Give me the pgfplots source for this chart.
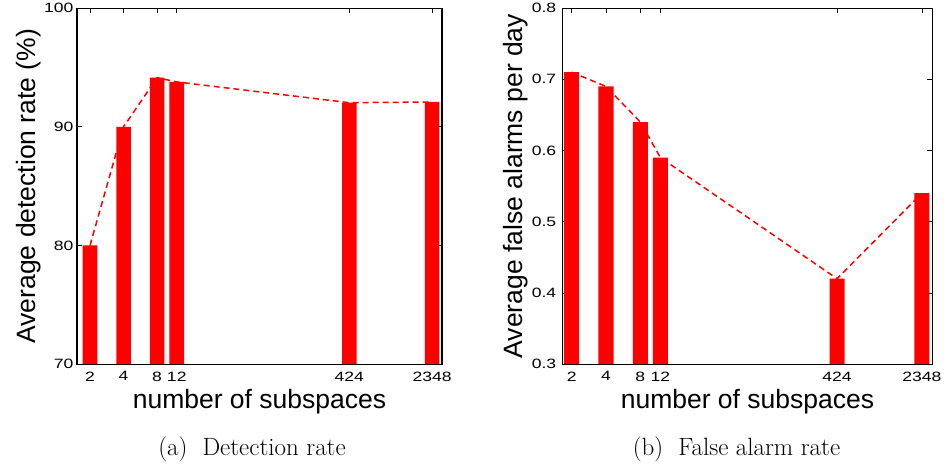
\documentclass[border=0pt]{standalone}
\usepackage{fontspec}
\newfontfamily\arial{Liberation Sans}
\newfontfamily\arialwide[FakeStretch=1.3]{Liberation Sans}
\usepackage{pgfplots}
\pgfplotsset{compat=1.18}

\pgfplotsset{
  subfig/.style={
    scale only axis, height=356pt,
    axis line style={line width=1.2pt},
    every tick/.style={black, line width=0.8pt},
    major tick length=5pt, tick align=inside,
    xtick={1,2,3,3.585,8.728,11.197},
    xticklabels={2,4,8,12,424,2348},
    tick label style={font=\arialwide\fontsize{13.5}{16}\selectfont},
    /pgf/number format/assume math mode=true,
    xticklabel shift=4pt,
    label style={font=\arial\fontsize{26.5}{30}\selectfont},
    xlabel={number of subspaces},
    xlabel style={at={(axis description cs:0.5,0)}, anchor=base, yshift=-44pt},
  },
}

\begin{document}
\begin{tikzpicture}
\path (0,0) rectangle (945pt,463pt);

% (a) detection rate
\begin{axis}[subfig, at={(77pt,100pt)}, anchor=south west, width=365pt,
  xmin=0.612, xmax=11.49, ymin=70, ymax=100, ytick={70,80,90,100},
  ylabel={Average detection rate (\%)},
  ylabel style={at={(axis description cs:-0.115,0.5)}, anchor=base}]
\addplot[ybar, bar width=0.435, fill=red, draw=none] coordinates {
  (1,80) (2,90) (3,94.14) (3.585,93.78) (8.728,92.03) (11.197,92.09)};
\addplot[red, line width=1.5pt, dash pattern=on 6pt off 4pt] coordinates {
  (1,80) (2,90) (3,94.14) (3.585,93.78) (8.728,92.03) (11.197,92.09)};
\end{axis}

% (b) false alarm rate
\begin{axis}[subfig, at={(562.7pt,100pt)}, anchor=south west, width=369.6pt,
  xmin=0.74, xmax=11.5, ymin=0.3, ymax=0.8, ytick={0.3,0.4,0.5,0.6,0.7,0.8},
  yticklabel style={/pgf/number format/.cd, fixed, precision=1, zerofill},
  yticklabel shift=3pt,
  ylabel={Average false alarms per day},
  ylabel style={at={(axis description cs:-0.108,0.5)}, anchor=base}]
\addplot[ybar, bar width=0.44, fill=red, draw=none] coordinates {
  (1,0.71) (2,0.69) (3,0.64) (3.585,0.59) (8.728,0.42) (11.197,0.54)};
\addplot[red, line width=1.5pt, dash pattern=on 6pt off 4pt] coordinates {
  (1,0.71) (2,0.69) (3,0.64) (3.585,0.59) (8.728,0.42) (11.197,0.54)};
\end{axis}

\node[anchor=base, font=\fontsize{25}{28}\selectfont] at (252pt,9pt) {(a)\ \ Detection rate};
\node[anchor=base, font=\fontsize{25}{28}\selectfont] at (736.5pt,9pt) {(b)\ \ False alarm rate};
\end{tikzpicture}
\end{document}
